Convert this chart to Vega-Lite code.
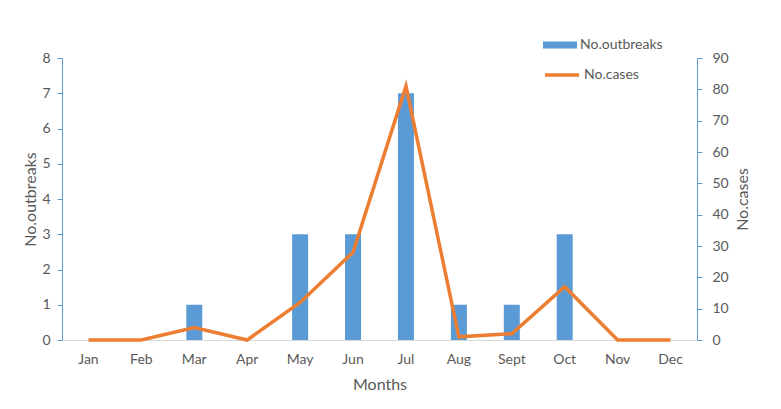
{
  "$schema": "https://vega.github.io/schema/vega-lite/v6.json",
  "width": 635,
  "height": 282,
  "autosize": {"type": "none"},
  "padding": {"left": 62, "top": 58, "right": 84, "bottom": 69},
  "background": "white",
  "config": {
    "view": {"stroke": null},
    "font": "Lato",
    "axis": {"labelFont": "Lato", "titleFont": "Lato", "labelColor": "#595959", "titleColor": "#595959", "labelFontSize": 14, "titleFontSize": 16, "titleFontWeight": "normal", "grid": false, "labelOverlap": false},
    "legend": {"labelFont": "Lato", "labelFontSize": 14, "labelColor": "#595959"}
  },
  "data": {
    "values": [
      {"month": "Jan", "outbreaks": 0, "cases": 0},
      {"month": "Feb", "outbreaks": 0, "cases": 0},
      {"month": "Mar", "outbreaks": 1, "cases": 4},
      {"month": "Apr", "outbreaks": 0, "cases": 0},
      {"month": "May", "outbreaks": 3, "cases": 12},
      {"month": "Jun", "outbreaks": 3, "cases": 28},
      {"month": "Jul", "outbreaks": 7, "cases": 81},
      {"month": "Aug", "outbreaks": 1, "cases": 1},
      {"month": "Sept", "outbreaks": 1, "cases": 2},
      {"month": "Oct", "outbreaks": 3, "cases": 17},
      {"month": "Nov", "outbreaks": 0, "cases": 0},
      {"month": "Dec", "outbreaks": 0, "cases": 0}
    ]
  },
  "encoding": {
    "x": {
      "field": "month", "type": "nominal", "sort": null,
      "scale": {"paddingInner": 0, "paddingOuter": 0},
      "axis": {"title": "Months", "labelAngle": 0, "ticks": false, "domainColor": "#D9D9D9", "domainWidth": 1, "labelPadding": 12, "titlePadding": 10}
    }
  },
  "layer": [
    {
      "mark": {"type": "bar", "size": 16},
      "encoding": {
        "y": {
          "field": "outbreaks", "type": "quantitative",
          "scale": {"domain": [0, 8], "nice": false},
          "axis": {"title": "No.outbreaks", "orient": "left", "values": [0,1,2,3,4,5,6,7,8], "domainColor": "#5B9BD5", "tickColor": "#5B9BD5", "tickSize": 5, "labelPadding": 7, "titlePadding": 3}
        },
        "color": {
          "datum": "No.outbreaks",
          "scale": {"domain": ["No.outbreaks"], "range": ["#5B9BD5"]},
          "legend": {"title": null, "orient": "none", "legendX": 481, "legendY": -30, "symbolType": "M-1,-0.2H1V0.2H-1Z", "symbolSize": 1156, "symbolStrokeWidth": 0, "symbolOpacity": 1, "padding": 0, "labelOffset": 3}
        }
      }
    },
    {
      "mark": {"type": "line", "strokeWidth": 3.5, "color": "#ED7D31"},
      "encoding": {
        "y": {
          "field": "cases", "type": "quantitative",
          "scale": {"domain": [0, 90], "nice": false},
          "axis": {"title": "No.cases", "orient": "right", "values": [0,10,20,30,40,50,60,70,80,90], "domainColor": "#5B9BD5", "tickColor": "#5B9BD5", "tickSize": 5, "labelPadding": 10, "titlePadding": 22, "titleAngle": 270}
        },
        "color": {
          "datum": "No.cases",
          "scale": {"domain": ["No.cases"], "range": ["#ED7D31"]},
          "legend": {"title": null, "orient": "none", "legendX": 481, "legendY": -2, "symbolType": "stroke", "symbolSize": 1156, "symbolStrokeWidth": 3.5, "padding": 0, "labelOffset": 3}
        }
      }
    }
  ],
  "resolve": {"scale": {"y": "independent", "color": "independent"}}
}
